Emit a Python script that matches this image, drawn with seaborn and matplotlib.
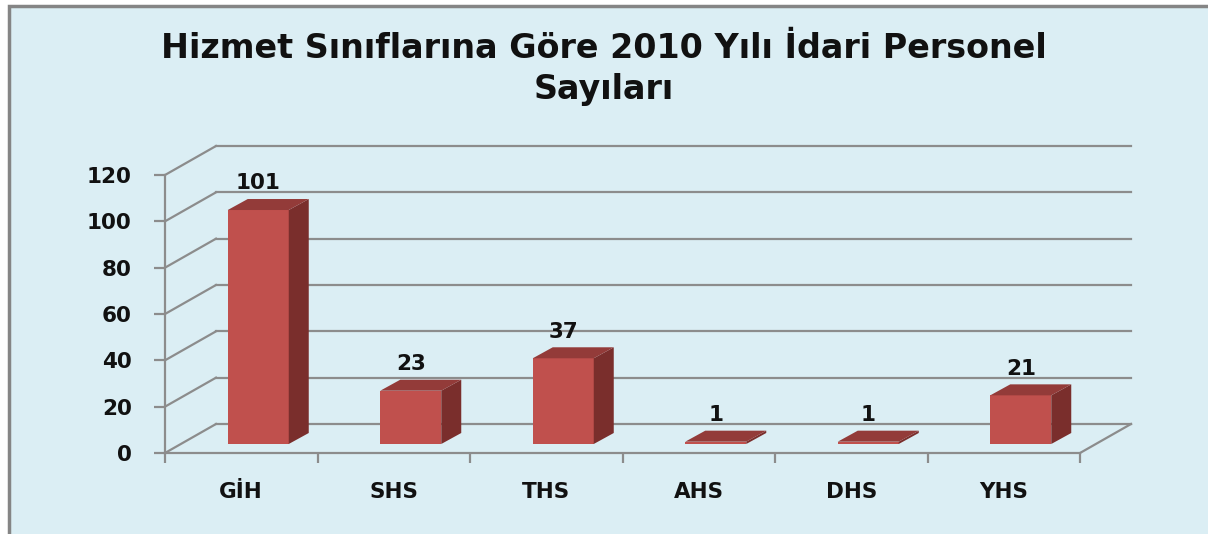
import matplotlib
matplotlib.use("Agg")
import matplotlib.pyplot as plt
from matplotlib.patches import Polygon, Rectangle
import seaborn as sns
import pandas as pd

# ----------------------------------------------------------------------
# Data
# ----------------------------------------------------------------------
categories = ["GİH", "SHS", "THS", "AHS", "DHS", "YHS"]
counts = [101, 23, 37, 1, 1, 21]
y_ticks = [0, 20, 40, 60, 80, 100, 120]
title = "Hizmet Sınıflarına Göre 2010 Yılı İdari Personel\nSayıları"

# ----------------------------------------------------------------------
# Style
# ----------------------------------------------------------------------
BG = "#DBEEF4"
GRID = "#8C8C8C"
FRONT = "#C0504D"
SIDE = "#7A2E2C"
TOP = "#933B39"
TXT = "#111111"

W, H = 1208, 534
fig = plt.figure(figsize=(W / 100, H / 100), dpi=100, facecolor="white")
fig.patches.append(Rectangle((9 / W, -0.05), 1.2, (H - 6) / H + 0.05,
                             transform=fig.transFigure, facecolor=BG,
                             edgecolor="#858585", linewidth=2.5, zorder=-10))

# front plane of the 3d box, in pixels
left, right, base, top = 165, 1080, 453, 175
ax = fig.add_axes([left / W, (H - base) / H, (right - left) / W, (base - top) / H])
ax.set_facecolor("none")

px_x = 6 / (right - left)         # category units per pixel
px_y = 120 / (base - top)         # value units per pixel

df = pd.DataFrame({"cat": categories, "n": counts})
sns.barplot(data=df, x="cat", y="n", color=FRONT, width=0.4, saturation=1,
            linewidth=0, ax=ax, zorder=3)

# move bars to mid depth and add the side / top faces
shift_x, shift_y = 17 * px_x, 9 * px_y
depth_x, depth_y = 20 * px_x, 11 * px_y
for p in ax.patches:
    p.set_x(p.get_x() + shift_x)
    p.set_y(p.get_y() + shift_y)
    x0, y0 = p.get_x(), p.get_y()
    x1, y1 = x0 + p.get_width(), y0 + p.get_height()
    side = [(x1, y0), (x1 + depth_x, y0 + depth_y), (x1 + depth_x, y1 + depth_y), (x1, y1)]
    cap = [(x0, y1), (x1, y1), (x1 + depth_x, y1 + depth_y), (x0 + depth_x, y1 + depth_y)]
    ax.add_patch(Polygon(side, closed=True, facecolor=SIDE, edgecolor="none", zorder=3, clip_on=False))
    ax.add_patch(Polygon(cap, closed=True, facecolor=TOP, edgecolor="none", zorder=3, clip_on=False))
    p.set_clip_on(False)

ax.bar_label(ax.containers[0], labels=[str(c) for c in counts], padding=12,
             fontsize=15.5, fontweight="bold", color=TXT, family="DejaVu Sans")

# back wall, side wall and floor
back_x, back_y = 51 * px_x, 29 * px_y
for v in y_ticks:
    ax.plot([-0.5, -0.5 + back_x], [v, v + back_y], color=GRID, lw=1.6, clip_on=False, zorder=1)
    ax.plot([-0.5 + back_x, 5.5 + back_x], [v + back_y, v + back_y], color=GRID, lw=1.6,
            clip_on=False, zorder=1)
ax.plot([5.5, 5.5 + back_x], [0, back_y], color=GRID, lw=1.6, clip_on=False, zorder=1)

ax.set_xlim(-0.5, 5.5)
ax.set_ylim(0, 120)
ax.set_yticks(y_ticks)
ax.set_xticks(range(len(categories)))
ax.set_xticks([i - 0.5 for i in range(len(categories) + 1)], minor=True)
ax.set_xticklabels(categories)
ax.set_xlabel("")
ax.set_ylabel("")
for s in ["top", "right"]:
    ax.spines[s].set_visible(False)
for s in ["left", "bottom"]:
    ax.spines[s].set_color(GRID)
    ax.spines[s].set_linewidth(1.6)
    ax.spines[s].set_zorder(1)
ax.tick_params(axis="y", length=8, width=1.6, color=GRID, pad=16, labelsize=15.5)
ax.tick_params(axis="x", which="major", length=0, pad=21, labelsize=15.5)
ax.tick_params(axis="x", which="minor", length=7, width=1.6, color=GRID)
for lab in ax.get_xticklabels() + ax.get_yticklabels():
    lab.set_fontweight("bold")
    lab.set_color(TXT)

fig.text(0.5, 1 - 69 / H, title, ha="center", va="center", fontsize=24,
         fontweight="bold", family="DejaVu Sans", color=TXT, linespacing=1.33)

fig.savefig("out.png", dpi=100, facecolor=fig.get_facecolor())
